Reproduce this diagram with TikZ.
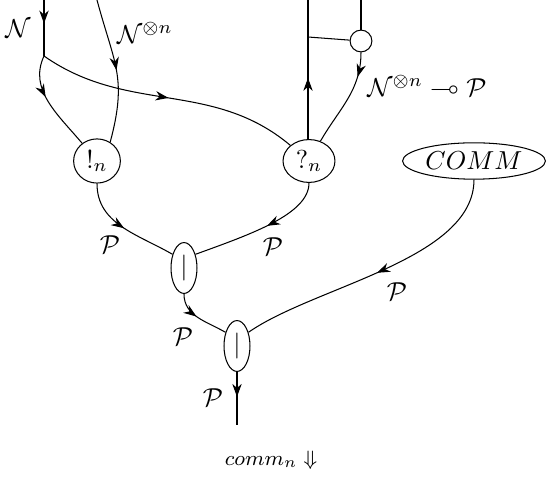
\documentclass[tikz,border=0pt]{standalone}
\usepackage{amssymb}
\usetikzlibrary{shapes.geometric, arrows.meta, decorations.markings}

\begin{document}
\begin{tikzpicture}[x=0.385pt, y=-0.385pt,
    every node/.style={inner sep=0pt},
    gate/.style={draw, ellipse, minimum width=20pt, minimum height=16.5pt},
    par/.style={draw, ellipse, minimum width=10pt, minimum height=19.6pt},
    mid/.style={postaction={decorate, decoration={markings,
      mark=at position #1 with {\arrow{Stealth[length=5pt, width=3.6pt, inset=1.6pt]}}}}}
  ]
  \useasboundingbox (0,0) rectangle (547,501);

  % boxes
  \node[gate, minimum width=18pt, minimum height=17pt] (ofcourse) at (97,161) {$!_n$};
  \node[gate] (whynot) at (309,161) {$?_n$};
  \node[draw, circle, minimum size=8.4pt] (lolli) at (361,41) {};
  \node[draw, ellipse, minimum width=55pt, minimum height=14pt] (comm) at (474,161) {$COMM$};
  \node[par] (par1) at (184,268) {$|$};
  \node[par] (par2) at (237,346) {$|$};

  % wire ends
  \coordinate (ntop) at (44,0);
  \coordinate (split) at (44,56);
  \coordinate (nntop) at (97,0);
  \coordinate (qtop) at (308,0);
  \coordinate (qjoin) at (308,37);
  \coordinate (ltop) at (361,0);
  \coordinate (out) at (237,425);

  % wires
  \draw[mid=0.42] (ntop) -- (split);
  \draw[mid=0.42] (split) to[out=245, in=130] (ofcourse);
  \draw[mid=0.5] (split) to[out=-35, in=140] (whynot);
  \draw[mid=0.5] (nntop) to[out=-75, in=75, looseness=1.2] (ofcourse.55);
  \draw[mid=0.44] (whynot.north -| qtop) -- (qtop);
  \draw (qjoin) -- (lolli);
  \draw (ltop) -- (lolli);
  \draw[mid=0.25] (lolli) to[out=-90, in=60] (whynot);
  \draw[mid=0.5] (ofcourse) to[out=-90, in=150] (par1.130);
  \draw[mid=0.45] (whynot) to[out=-90, in=20, out looseness=0.6, in looseness=1.1] (par1.50);
  \draw[mid=0.45] (par1) to[out=-90, in=150] (par2.130);
  \draw[mid=0.5] (comm) to[out=-90, in=35, looseness=0.75] (par2.50);
  \draw[mid=0.47] (par2) -- (out);

  % labels
  \node (lN) at (18,29) {$\mathcal{N}$};
  \node (lNn) at (145,33) {$\mathcal{N}^{\otimes n}$};
  \node (lNP) at (427,86) {$\mathcal{N}^{\otimes n} \multimap \mathcal{P}$};
  \node (lP1) at (110,245) {$\mathcal{P}$};
  \node (lP2) at (273,247) {$\mathcal{P}$};
  \node (lP3) at (397,292) {$\mathcal{P}$};
  \node (lP4) at (183,337) {$\mathcal{P}$};
  \node (lP5) at (213,398) {$\mathcal{P}$};
  \node (caption) at (271,460) {\footnotesize $comm_n \Downarrow$};
\end{tikzpicture}
\end{document}
